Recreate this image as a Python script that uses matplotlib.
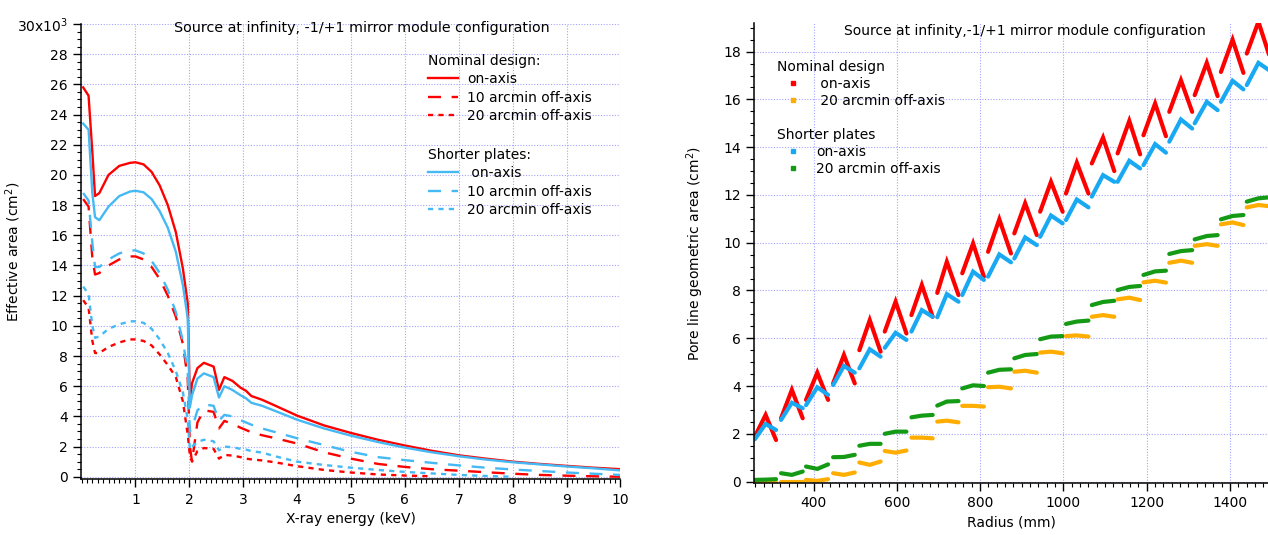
import numpy as np
import matplotlib
matplotlib.use('Agg')
import matplotlib.pyplot as plt
from matplotlib.lines import Line2D
from matplotlib.ticker import MultipleLocator

plt.rcParams['font.family'] = ['DejaVu Sans']
plt.rcParams['font.size'] = 10

# ---------------- left panel: effective area vs energy (x10^3 cm^2) ----------------
energy = [0.03, 0.13, 0.2, 0.25, 0.33, 0.5, 0.7, 0.9, 1.0, 1.15, 1.3, 1.45, 1.6, 1.75,
          1.88, 1.97, 2.01, 2.05, 2.15, 2.27, 2.45, 2.55, 2.65, 2.8, 2.95, 3.05, 3.15,
          3.35, 3.6, 4.0, 4.5, 5.0, 5.5, 6.0, 6.5, 7.0, 7.5, 8.0, 8.5, 9.0, 9.5, 10.0]

nom_on = [25.8, 25.25, 21.5, 18.6, 18.8, 20.0, 20.6, 20.8, 20.84, 20.7, 20.2, 19.3, 18.0, 16.2,
          13.8, 11.5, 5.0, 6.2, 7.2, 7.55, 7.3, 5.75, 6.6, 6.35, 5.9, 5.7, 5.35,
          5.1, 4.7, 4.05, 3.4, 2.9, 2.45, 2.07, 1.72, 1.42, 1.2, 1.0, 0.85, 0.72, 0.6, 0.5]
nom_10 = [18.4, 17.9, 14.5, 13.4, 13.5, 14.0, 14.4, 14.6, 14.6, 14.4, 13.9, 13.1, 12.0, 10.6,
          8.8, 6.5, 2.0, 1.0, 3.6, 4.4, 4.3, 3.2, 3.7, 3.5, 3.25, 3.1, 2.95,
          2.75, 2.55, 2.2, 1.62, 1.2, 0.85, 0.65, 0.5, 0.4, 0.3, 0.2, 0.12, 0.07, 0.03, 0.0]
nom_20 = [11.7, 11.2, 9.0, 8.2, 8.2, 8.6, 8.9, 9.1, 9.1, 9.0, 8.7, 8.1, 7.4, 6.6,
          5.0, 2.8, 1.4, 1.0, 1.7, 1.9, 1.85, 1.2, 1.45, 1.4, 1.3, 1.2, 1.15,
          1.08, 0.95, 0.7, 0.45, 0.28, 0.15, 0.08, 0.03, np.nan, np.nan, np.nan, np.nan,
          np.nan, np.nan, np.nan]
short_on = [23.4, 23.0, 18.8, 17.2, 17.0, 17.9, 18.6, 18.9, 18.95, 18.85, 18.4, 17.6, 16.5, 14.9,
            12.7, 10.5, 4.6, 5.4, 6.5, 6.85, 6.6, 5.25, 6.0, 5.75, 5.4, 5.2, 4.9,
            4.7, 4.35, 3.78, 3.2, 2.72, 2.3, 1.93, 1.62, 1.36, 1.14, 0.96, 0.82, 0.68, 0.56, 0.42]
short_10 = [18.8, 18.3, 15.5, 13.9, 13.9, 14.4, 14.8, 15.0, 15.0, 14.8, 14.3, 13.5, 12.4, 10.9,
            9.0, 7.0, 3.0, 3.2, 4.4, 4.8, 4.7, 3.7, 4.1, 4.0, 3.75, 3.6, 3.45,
            3.2, 2.95, 2.55, 2.1, 1.65, 1.3, 1.1, 0.92, 0.75, 0.6, 0.48, 0.38, 0.28, 0.2, 0.12]
short_20 = [12.6, 12.1, 10.0, 9.2, 9.3, 9.8, 10.1, 10.3, 10.3, 10.2, 9.8, 9.1, 8.2, 7.0,
            5.6, 3.8, 1.8, 2.0, 2.3, 2.45, 2.35, 1.75, 2.0, 1.95, 1.85, 1.8, 1.7,
            1.6, 1.35, 1.0, 0.78, 0.6, 0.45, 0.32, 0.22, 0.12, 0.05, 0.0, np.nan, np.nan,
            np.nan, np.nan]

# ---------------- right panel: pore line geometric area per module row ----------------
row_r_start = [259, 322, 382, 447, 510, 571, 635, 697, 757, 819,
               882, 944, 1006, 1068, 1130, 1192, 1254, 1315, 1378, 1440]
row_r_mid = [285, 348, 409, 473, 535, 597, 660, 720, 783, 846,
             908, 970, 1032, 1095, 1158, 1220, 1282, 1344, 1406, 1468]
row_r_end = [310, 374, 435, 499, 561, 623, 686, 748, 809, 874,
             936, 998, 1060, 1122, 1184, 1246, 1309, 1370, 1432, 1494]

red_start = [1.88, 2.65, 3.42, 4.11, 5.5, 6.28, 6.97, 7.9, 8.72, 9.62,
             10.39, 11.3, 12.06, 13.32, 13.74, 14.5, 15.48, 16.18, 17.15, 17.92]
red_peak = [2.79, 3.84, 4.56, 5.3, 6.76, 7.53, 8.23, 9.2, 9.97, 10.98,
            11.65, 12.55, 13.35, 14.4, 15.1, 15.83, 16.8, 17.53, 18.5, 19.25]
red_end = [1.74, 2.65, 3.42, 4.11, 5.44, 6.2, 6.9, 7.81, 8.58, 9.55,
           10.32, 11.3, 12.06, 13.0, 13.7, 14.46, 15.48, 16.14, 17.11, 17.85]

blue_start = [1.77, 2.58, 3.2, 4.04, 4.74, 5.6, 6.28, 6.88, 7.81, 8.58,
              9.34, 10.25, 10.95, 11.93, 12.55, 13.25, 14.23, 15.0, 15.9, 16.6]
blue_peak = [2.41, 3.3, 3.95, 4.84, 5.54, 6.23, 7.18, 7.85, 8.79, 9.51,
             10.22, 11.14, 11.81, 12.83, 13.43, 14.13, 15.16, 15.9, 16.78, 17.53]
blue_end = [2.16, 3.07, 3.63, 4.56, 5.23, 5.93, 6.9, 7.53, 8.44, 9.18,
            9.9, 10.81, 11.48, 12.55, 13.11, 13.77, 14.78, 15.55, 16.42, 17.22]

green_start = [0.07, 0.35, 0.63, 1.02, 1.5, 2.0, 2.69, 3.18, 3.9, 4.56,
               5.16, 5.96, 6.6, 7.39, 8.02, 8.65, 9.53, 10.14, 10.98, 11.72]
green_mid = [0.08, 0.28, 0.53, 1.03, 1.58, 2.09, 2.76, 3.35, 4.03, 4.68,
             5.3, 6.07, 6.7, 7.52, 8.15, 8.8, 9.65, 10.28, 11.12, 11.86]
green_end = [0.1, 0.42, 0.72, 1.12, 1.58, 2.09, 2.79, 3.37, 4.0, 4.7,
             5.34, 6.09, 6.74, 7.57, 8.19, 8.83, 9.69, 10.32, 11.16, 11.9]

orange_start = [0.0, 0.0, 0.07, 0.35, 0.8, 1.28, 1.84, 2.51, 3.17, 3.95,
                4.6, 5.4, 6.09, 6.9, 7.63, 8.34, 9.16, 9.87, 10.77, 11.48]
orange_mid = [0.0, 0.0, 0.03, 0.28, 0.7, 1.21, 1.84, 2.55, 3.17, 3.97,
              4.64, 5.44, 6.12, 6.97, 7.7, 8.41, 9.25, 9.94, 10.85, 11.58]
orange_end = [0.0, 0.0, 0.1, 0.38, 0.84, 1.3, 1.81, 2.48, 3.14, 3.9,
              4.56, 5.37, 6.07, 6.9, 7.6, 8.33, 9.16, 9.87, 10.74, 11.53]

RED = '#ff0000'
LBLUE = '#44b9f4'
BLUE = '#18a9f2'
ORANGE = '#ffad00'
GREEN = '#159a15'
GRID = '#a4a4ff'

DASH = (0, (5.5, 4.5))
DOT = (0, (2.2, 2.2))


def style_axes(ax):
    for side in ('top', 'right'):
        ax.spines[side].set_visible(False)
    for side in ('left', 'bottom'):
        ax.spines[side].set_linewidth(1.1)
    ax.tick_params(which='major', direction='out', length=6, width=1, labelsize=10)
    ax.tick_params(which='minor', direction='out', length=3, width=0.8)
    ax.grid(True, which='major', color=GRID, linestyle=(0, (1, 1.5)), linewidth=0.8)
    ax.set_axisbelow(True)


fig = plt.figure(figsize=(12.68, 5.35), dpi=100)

# left panel
ax1 = fig.add_axes([0.0639, 0.1041, 0.4254, 0.851])
style_axes(ax1)
lw = 1.7
ax1.plot(energy, nom_on, color=RED, lw=lw)
ax1.plot(energy, nom_10, color=RED, lw=lw, linestyle=DASH)
ax1.plot(energy, nom_20, color=RED, lw=lw, linestyle=DOT)
ax1.plot(energy, short_on, color=LBLUE, lw=lw)
ax1.plot(energy, short_10, color=LBLUE, lw=lw, linestyle=DASH)
ax1.plot(energy, short_20, color=LBLUE, lw=lw, linestyle=DOT)

ax1.set_xlim(-0.01, 10)
ax1.set_ylim(-0.17, 30)
ax1.set_xticks(range(1, 11))
ax1.xaxis.set_minor_locator(MultipleLocator(0.1))
yt = list(range(0, 31, 2))
ax1.set_yticks(yt, [str(v) for v in yt[:-1]] + ['30x10$^3$'])
ax1.yaxis.set_minor_locator(MultipleLocator(0.5))
ax1.set_xlabel('X-ray energy (keV)', fontsize=10)
ax1.set_ylabel('Effective area (cm$^2$)', fontsize=10)
ax1.yaxis.set_label_coords(-0.107, 0.5)
ax1.text(0.521, 0.991, 'Source at infinity, -1/+1 mirror module configuration',
         transform=ax1.transAxes, ha='center', va='center', fontsize=10.3)

leg_kw = dict(loc='upper left', frameon=False, fontsize=10, title_fontsize=10,
              borderpad=0, borderaxespad=0, handlelength=2.2, handletextpad=0.6,
              labelspacing=0.32, alignment='left')
h_nom = [Line2D([], [], color=RED, lw=lw),
         Line2D([], [], color=RED, lw=lw, linestyle=DASH),
         Line2D([], [], color=RED, lw=lw, linestyle=DOT)]
h_short = [Line2D([], [], color=LBLUE, lw=lw),
           Line2D([], [], color=LBLUE, lw=lw, linestyle=DASH),
           Line2D([], [], color=LBLUE, lw=lw, linestyle=DOT)]
lg1 = ax1.legend(h_nom, ['on-axis', '10 arcmin off-axis', '20 arcmin off-axis'],
                 title='Nominal design:', bbox_to_anchor=(0.643, 0.935), **leg_kw)
ax1.add_artist(lg1)
ax1.legend(h_short, [' on-axis', '10 arcmin off-axis', '20 arcmin off-axis'],
           title='Shorter plates:', bbox_to_anchor=(0.643, 0.728), **leg_kw)

# right panel
ax2 = fig.add_axes([0.5946, 0.0972, 0.4054, 0.8598])
style_axes(ax2)
seg_kw = dict(lw=3.0, solid_capstyle='round', solid_joinstyle='miter')
for i in range(len(row_r_start)):
    rr = [row_r_start[i], row_r_mid[i], row_r_end[i]]
    ax2.plot(rr, [orange_start[i], orange_mid[i], orange_end[i]], color=ORANGE, **seg_kw)
    ax2.plot(rr, [green_start[i], green_mid[i], green_end[i]], color=GREEN, **seg_kw)
    ax2.plot(rr, [red_start[i], red_peak[i], red_end[i]], color=RED, **seg_kw)
    ax2.plot(rr, [blue_start[i], blue_peak[i], blue_end[i]], color=BLUE, **seg_kw)

ax2.set_xlim(257, 1491)
ax2.set_ylim(-0.06, 19.2)
ax2.set_xticks(range(400, 1401, 200))
ax2.xaxis.set_minor_locator(MultipleLocator(20))
ax2.set_yticks(range(0, 19, 2))
ax2.yaxis.set_minor_locator(MultipleLocator(0.5))
ax2.set_xlabel('Radius (mm)', fontsize=10)
ax2.set_ylabel('Pore line geometric area (cm$^2$)', fontsize=10)
ax2.yaxis.set_label_coords(-0.093, 0.5)
ax2.text(0.527, 0.983, 'Source at infinity,-1/+1 mirror module configuration',
         transform=ax2.transAxes, ha='center', va='center', fontsize=10)

mk = dict(marker='s', markersize=2.6, linestyle='none')
leg2_kw = dict(leg_kw, handlelength=2.3, handletextpad=0.5, labelspacing=0.22)
lg3 = ax2.legend([Line2D([], [], color=RED, **mk), Line2D([], [], color=ORANGE, **mk)],
                 [' on-axis', ' 20 arcmin off-axis'], title='Nominal design',
                 bbox_to_anchor=(0.045, 0.92), **leg2_kw)
ax2.add_artist(lg3)
ax2.legend([Line2D([], [], color=BLUE, **mk), Line2D([], [], color=GREEN, **mk)],
           ['on-axis', '20 arcmin off-axis'], title='Shorter plates',
           bbox_to_anchor=(0.045, 0.772), **leg2_kw)

fig.savefig('out.png', dpi=100)
